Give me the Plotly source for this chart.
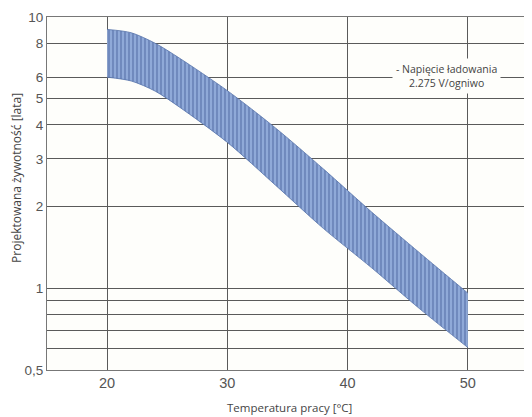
import plotly.graph_objects as go

# Data
temperature = [20, 22, 24, 26, 30, 34, 38, 42, 46, 50]
life_upper = [9.0, 8.75, 8.0, 7.06, 5.35, 3.9, 2.75, 1.91, 1.35, 0.96]
life_lower = [6.0, 5.81, 5.33, 4.66, 3.45, 2.4, 1.66, 1.19, 0.84, 0.605]

x_ticks = [20, 30, 40, 50]
y_ticks = [0.5, 0.6, 0.7, 0.8, 0.9, 1, 2, 3, 4, 5, 6, 8, 10]
y_ticktext = ["0,5", "", "", "", "", "1", "2", "3", "4", "5", "6", "8", "10"]

note_text = "- Napięcie ładowania<br>2.275 V/ogniwo"
x_title = "Temperatura pracy [°C]"
y_title = "Projektowana żywotność [lata]"

FONT = "Liberation Sans, Arial, sans-serif"
TFONT = "Open Sans, Liberation Sans, sans-serif"
GRID = "#5a5a5a"

fig = go.Figure()
fig.add_trace(go.Scatter(
    x=temperature, y=life_lower, mode="lines",
    line=dict(color="#5572aa", width=0.8, shape="spline", smoothing=0.8),
    showlegend=False, hoverinfo="skip"))
fig.add_trace(go.Scatter(
    x=temperature, y=life_upper, mode="lines",
    line=dict(color="#5572aa", width=0.8, shape="spline", smoothing=0.8),
    fill="tonexty", fillcolor="#8fa9d8",
    fillpattern=dict(shape="|", bgcolor="#8fa9d8", fgcolor="#34508c",
                     size=4, solidity=0.35),
    showlegend=False, hoverinfo="skip"))

# the page body has an 8px default margin; figure is sized to fit the window
fig.update_layout(
    width=524, height=409,
    margin=dict(l=39, r=1, t=9, b=47),
    paper_bgcolor="white", plot_bgcolor="#fefefb",
    font=dict(family=FONT, color="#555555"),
    xaxis=dict(range=[15, 55.25], tickvals=x_ticks, showgrid=True,
               gridcolor=GRID, gridwidth=1.2, zeroline=False,
               showline=True, linecolor="#777777", linewidth=1, mirror=True,
               ticks="", tickfont=dict(size=14.5, color="#555555")),
    yaxis=dict(type="log", range=[-0.30103, 1], tickvals=y_ticks,
               ticktext=y_ticktext, showgrid=True, gridcolor=GRID,
               gridwidth=1.2, zeroline=False, showline=True,
               linecolor="#777777", linewidth=1, mirror=True, ticks="",
               tickfont=dict(size=13.5, color="#555555")),
    annotations=[
        dict(text=note_text, xref="x", yref="paper", x=48.2, y=0.834,
             xanchor="center", yanchor="middle",
             showarrow=False, font=dict(family=TFONT, size=10.5, color="#444444"),
             bgcolor="#fefefb", align="center", borderpad=3),
        dict(text=x_title, xref="paper", yref="paper", x=0.502, y=-0.1076,
             xanchor="center", yanchor="middle", showarrow=False,
             font=dict(family=TFONT, size=11.5, color="#444444")),
        dict(text=y_title, xref="paper", yref="paper", x=-0.062, y=0.544,
             xanchor="center", yanchor="middle", textangle=-90,
             showarrow=False, font=dict(family=TFONT, size=12, color="#444444")),
    ],
)

fig.write_html("out.html")
